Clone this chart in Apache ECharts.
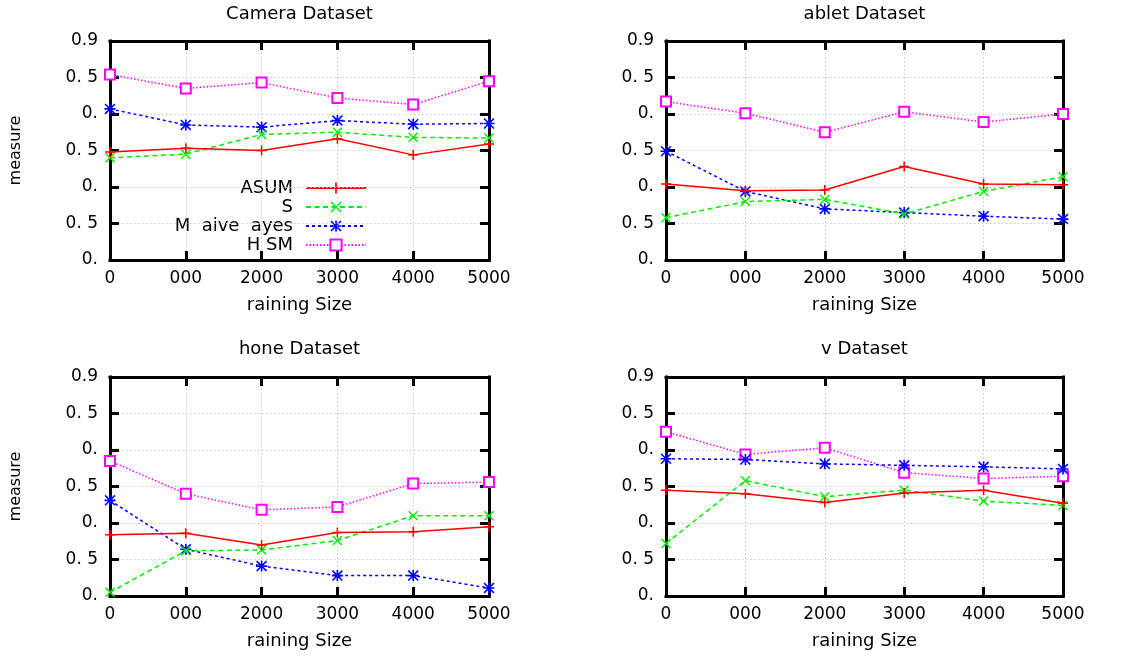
<!DOCTYPE html>
<html>
<head>
<meta charset="utf-8">
<script src="https://cdn.jsdelivr.net/npm/echarts@6/dist/echarts.min.js"></script>
<style>
html,body{margin:0;padding:0;background:#fff;}
#chart{width:1141px;height:660px;}
</style>
</head>
<body>
<div id="chart"></div>
<script>
// ---- data ----
const xValues = [0, 1000, 2000, 3000, 4000, 5000];
const xTickLabels = ['0', '000', '2000', '3000', '4000', '5000'];
const yTickLabels = ['0.', '0. 5', '0.', '0. 5', '0.', '0. 5', '0.9'];
const seriesNames = ['ASUM', 'S', 'M  aive  ayes', 'H SM'];
const panelTitles = ['Camera Dataset', 'ablet Dataset', 'hone Dataset', 'v Dataset'];
const xAxisTitle = 'raining Size';
const yAxisTitle = 'measure';

// Camera
const cameraASUM  = [0.748, 0.753, 0.750, 0.766, 0.744, 0.759];
const cameraS     = [0.740, 0.745, 0.772, 0.775, 0.768, 0.767];
const cameraNB    = [0.807, 0.785, 0.782, 0.791, 0.786, 0.787];
const cameraHSM   = [0.854, 0.835, 0.843, 0.822, 0.813, 0.845];
// Tablet
const tabletASUM  = [0.704, 0.695, 0.696, 0.728, 0.704, 0.703];
const tabletS     = [0.658, 0.680, 0.683, 0.663, 0.694, 0.714];
const tabletNB    = [0.749, 0.694, 0.670, 0.665, 0.660, 0.656];
const tabletHSM   = [0.817, 0.801, 0.775, 0.803, 0.789, 0.800];
// Phone
const phoneASUM   = [0.684, 0.686, 0.670, 0.687, 0.688, 0.695];
const phoneS      = [0.605, 0.662, 0.663, 0.676, 0.710, 0.710];
const phoneNB     = [0.731, 0.664, 0.641, 0.628, 0.628, 0.611];
const phoneHSM    = [0.785, 0.740, 0.718, 0.722, 0.754, 0.756];
// TV
const tvASUM      = [0.745, 0.740, 0.728, 0.741, 0.745, 0.727];
const tvS         = [0.672, 0.758, 0.736, 0.745, 0.730, 0.724];
const tvNB        = [0.788, 0.787, 0.781, 0.779, 0.777, 0.774];
const tvHSM       = [0.825, 0.794, 0.803, 0.769, 0.761, 0.764];

const panels = [
  [cameraASUM, cameraS, cameraNB, cameraHSM],
  [tabletASUM, tabletS, tabletNB, tabletHSM],
  [phoneASUM, phoneS, phoneNB, phoneHSM],
  [tvASUM, tvS, tvNB, tvHSM]
];

// ---- styles ----
const FONT = 'DejaVu Sans';
const colors = ['#ff0000', '#00ee00', '#0000ff', '#ff00ff'];
const lineTypes = ['solid', [5, 3.5], [3, 3], [1.5, 2]];
const PLUS = 'path://M8.5,0h3v20h-3zM0,8.5h20v3h-20z';
const CROSS = 'path://M0,2L2,0L20,18L18,20ZM0,18L18,0L20,2L2,20Z';
const STAR = 'path://M8.5,0h3v20h-3zM0,8.5h20v3h-20zM0,2L2,0L20,18L18,20ZM0,18L18,0L20,2L2,20Z';
const symbols = [PLUS, CROSS, STAR, 'emptyRect'];
const symbolSizes = [10, 10, 11, 10];

const grids = [
  {left: 110, top: 41, width: 379, height: 219},
  {left: 666, top: 41, width: 397, height: 219},
  {left: 110, top: 377, width: 379, height: 219},
  {left: 666, top: 377, width: 397, height: 219}
];

const frameLine = {show: true, onZero: false, lineStyle: {color: '#000', width: 3, cap: 'square'}};
const tickStyle = {show: true, inside: true, length: 9, lineStyle: {color: '#000', width: 3}};
const splitStyle = {show: true, lineStyle: {color: '#c8c8c8', width: 1, type: [1.5, 2.5]}};

const xAxes = [], yAxes = [], series = [];
grids.forEach((g, i) => {
  // bottom x axis
  xAxes.push({
    gridIndex: i, type: 'value', min: 0, max: 5000, interval: 1000, position: 'bottom',
    axisLine: frameLine, axisTick: tickStyle, splitLine: splitStyle, z: 5,
    axisLabel: {margin: 10, color: '#000', fontFamily: FONT, fontSize: 17,
      formatter: (v, idx) => xTickLabels[idx]},
    name: xAxisTitle, nameLocation: 'middle', nameGap: 36,
    nameTextStyle: {color: '#000', fontFamily: FONT, fontSize: 18}
  });
  // top mirror axis carrying panel title
  xAxes.push({
    gridIndex: i, type: 'value', min: 0, max: 5000, interval: 1000, position: 'top',
    axisLine: frameLine, axisTick: tickStyle, splitLine: {show: false}, z: 5,
    axisLabel: {show: false},
    name: panelTitles[i], nameLocation: 'middle', nameGap: i < 2 ? 18 : 19,
    nameTextStyle: {color: '#000', fontFamily: FONT, fontSize: 18}
  });
  // left y axis
  yAxes.push({
    gridIndex: i, type: 'value', min: 0.6, max: 0.9, interval: 0.05, position: 'left',
    axisLine: frameLine, axisTick: tickStyle, splitLine: splitStyle, z: 5,
    axisLabel: {margin: 12, color: '#000', fontFamily: FONT, fontSize: 17,
      formatter: (v, idx) => yTickLabels[idx]},
    name: (i % 2 === 0) ? yAxisTitle : '', nameLocation: 'middle', nameRotate: 90, nameGap: 86,
    nameTextStyle: {color: '#000', fontFamily: FONT, fontSize: 16}
  });
  // right mirror y axis
  yAxes.push({
    gridIndex: i, type: 'value', min: 0.6, max: 0.9, interval: 0.05, position: 'right',
    axisLine: frameLine, axisTick: tickStyle, splitLine: {show: false}, z: 5,
    axisLabel: {show: false}
  });
  panels[i].forEach((vals, k) => {
    series.push({
      name: seriesNames[k], type: 'line', xAxisIndex: i * 2, yAxisIndex: i * 2,
      data: xValues.map((x, j) => [x, vals[j]]),
      symbol: symbols[k], symbolSize: symbolSizes[k], showSymbol: true,
      clip: false,
      lineStyle: {color: colors[k], width: 1.5, type: lineTypes[k]},
      itemStyle: k === 3
        ? {color: colors[k], borderColor: colors[k], borderWidth: 1.5}
        : {color: colors[k], borderColor: colors[k], borderWidth: 0},
      emphasis: {disabled: true},
      z: 6 + (3 - k)
    });
  });
});

const option = {
  animation: false,
  backgroundColor: '#fff',
  textStyle: {fontFamily: FONT},
  grid: grids.map(g => Object.assign({show: false, containLabel: false}, g)),
  xAxis: xAxes,
  yAxis: yAxes,
  legend: {
    data: seriesNames, orient: 'vertical', align: 'right',
    right: 774, top: 179, padding: 0,
    itemWidth: 60, itemHeight: 14, itemGap: 1,
    textStyle: {color: '#000', fontFamily: FONT, fontSize: 18, padding: [0, 8, 0, 0]},
    selectedMode: false
  },
  series: series
};

const chart = echarts.init(document.getElementById('chart'), null, {renderer: 'canvas'});
chart.setOption(option);
</script>
</body>
</html>
